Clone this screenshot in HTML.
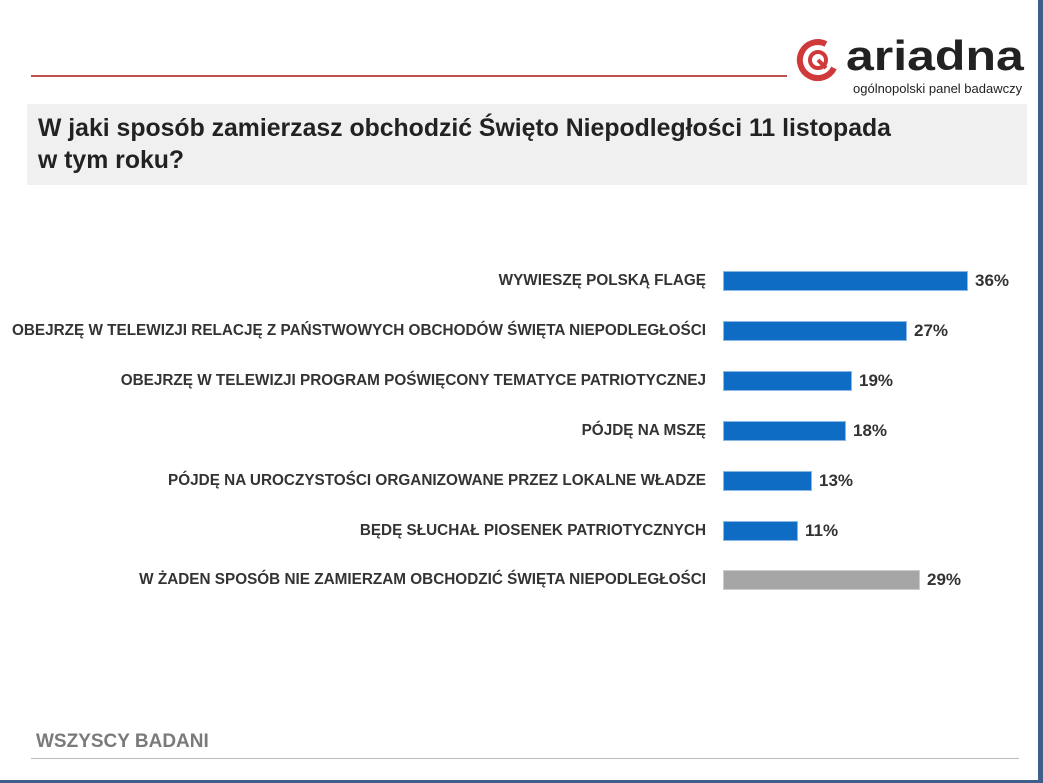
<!DOCTYPE html><html><head><meta charset="utf-8"><style>
body{margin:0;width:1043px;height:783px;background:#fff;position:relative;overflow:hidden;font-family:"Liberation Sans",sans-serif}
.a{position:absolute}
.lab{position:absolute;right:337px;font-weight:bold;font-size:15.3px;color:#333;white-space:nowrap}
.bar{position:absolute;left:723px;height:20px;background:#0f6cc4;border:1px solid #8ab8e6;box-sizing:border-box}
.v{position:absolute;font-weight:bold;font-size:17px;color:#333}
</style></head><body>
<div class="a" style="right:0;top:0;width:5px;height:783px;background:#3f5e8a"></div>
<div class="a" style="left:0;top:780px;width:1043px;height:3px;background:#3f5e8a"></div>
<div class="a" style="left:31px;top:75px;width:756px;height:2px;background:#c0504d"></div>
<svg class="a" style="left:796px;top:38px" width="50" height="46" viewBox="0 0 50 46">
<path d="M30 6 A18 18 0 1 0 38 30" fill="none" stroke="#d0393a" stroke-width="6"/>
<circle cx="22" cy="22" r="8" fill="none" stroke="#d0393a" stroke-width="4"/>
<path d="M22 22 L30 30" stroke="#d0393a" stroke-width="4"/></svg>
<div class="a" style="left:846px;top:32px;font-size:42px;font-weight:bold;color:#222;transform:scaleX(1.19);transform-origin:left top">ariadna</div>
<div class="a" style="left:853px;top:81px;font-size:13px;color:#222">ogólnopolski panel badawczy</div>
<div class="a" style="left:27px;top:104px;width:1000px;height:81px;background:#f0f0f0"></div>
<div class="a" style="left:38px;top:113px;font-size:24.8px;font-weight:bold;color:#222;line-height:32px">W jaki sposób zamierzasz obchodzić Święto Niepodległości 11 listopada<br>w tym roku?</div>

<div class="lab" style="top:272px">WYWIESZĘ POLSKĄ FLAGĘ</div>
<div class="bar" style="top:271px;width:245px"></div><div class="v" style="left:975px;top:271px">36%</div>
<div class="lab" style="top:322px">OBEJRZĘ W TELEWIZJI RELACJĘ Z PAŃSTWOWYCH OBCHODÓW ŚWIĘTA NIEPODLEGŁOŚCI</div>
<div class="bar" style="top:321px;width:184px"></div><div class="v" style="left:914px;top:321px">27%</div>
<div class="lab" style="top:372px">OBEJRZĘ W TELEWIZJI PROGRAM POŚWIĘCONY TEMATYCE PATRIOTYCZNEJ</div>
<div class="bar" style="top:371px;width:129px"></div><div class="v" style="left:859px;top:371px">19%</div>
<div class="lab" style="top:422px">PÓJDĘ NA MSZĘ</div>
<div class="bar" style="top:421px;width:123px"></div><div class="v" style="left:853px;top:421px">18%</div>
<div class="lab" style="top:472px">PÓJDĘ NA UROCZYSTOŚCI ORGANIZOWANE PRZEZ LOKALNE WŁADZE</div>
<div class="bar" style="top:471px;width:89px"></div><div class="v" style="left:819px;top:471px">13%</div>
<div class="lab" style="top:522px">BĘDĘ SŁUCHAŁ PIOSENEK PATRIOTYCZNYCH</div>
<div class="bar" style="top:521px;width:75px"></div><div class="v" style="left:805px;top:521px">11%</div>
<div class="lab" style="top:571px">W ŻADEN SPOSÓB NIE ZAMIERZAM OBCHODZIĆ ŚWIĘTA NIEPODLEGŁOŚCI</div>
<div class="bar" style="top:570px;width:197px;background:#a6a6a6;border-color:#ccc"></div><div class="v" style="left:927px;top:570px">29%</div>

<div class="a" style="left:36px;top:731px;font-size:19px;font-weight:bold;color:#7a7a7a">WSZYSCY BADANI</div>
<div class="a" style="left:31px;top:758px;width:988px;height:1px;background:#bbb"></div>
</body></html>
